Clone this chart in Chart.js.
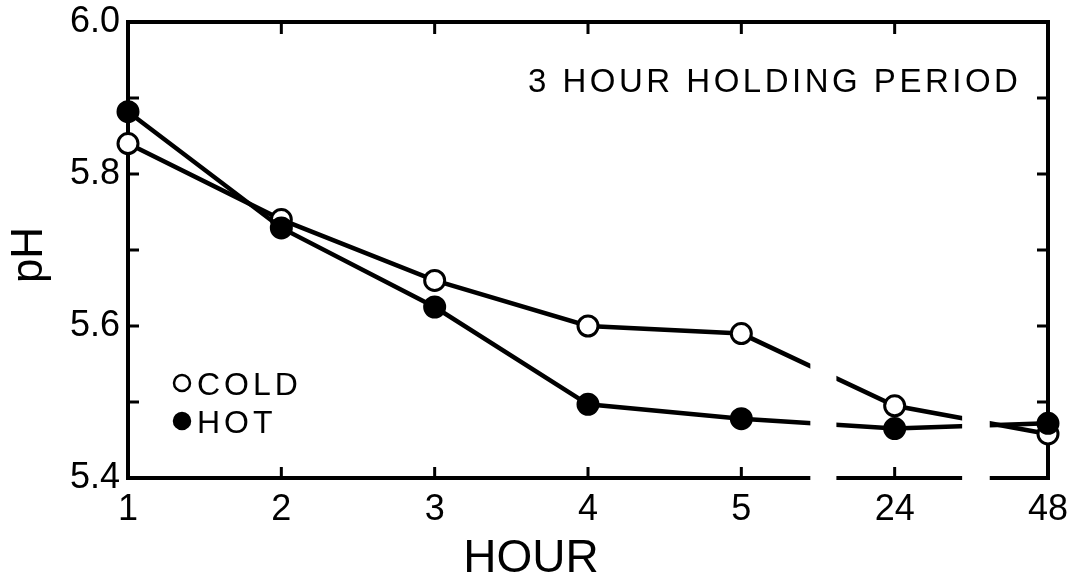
<!DOCTYPE html>
<html>
<head>
<meta charset="utf-8">
<script src="https://cdn.jsdelivr.net/npm/chart.js@4.4.1/dist/chart.umd.min.js"></script>
<style>
  html, body { margin: 0; padding: 0; background: #fff; }
  #wrap { width: 1075px; height: 581px; position: relative; }
</style>
</head>
<body>
<div id="wrap"><canvas id="chart"></canvas></div>
<script>
// values
const hours = ['1', '2', '3', '4', '5', '24', '48'];
const coldPH = [5.84, 5.74, 5.66, 5.60, 5.59, 5.495, 5.458];
const hotPH = [5.882, 5.729, 5.625, 5.497, 5.478, 5.465, 5.472];
const yTickValues = [5.4, 5.5, 5.6, 5.7, 5.8, 5.9, 6.0];
const yTickLabels = ['5.4', '5.6', '5.8', '6.0'];

// broken x axis: spans in category-index units
const breakSpans = [[4.45, 4.62], [5.44, 5.62]];

const FONT = '"Liberation Sans", Arial, sans-serif';

const framePlugin = {
  id: 'frame',
  beforeDatasetsDraw(chart) {
    const { ctx, chartArea: a, scales: { x, y } } = chart;
    ctx.save();
    ctx.strokeStyle = '#000';
    ctx.lineWidth = 4;
    ctx.lineJoin = 'miter';
    ctx.beginPath();
    ctx.moveTo(a.left, a.top);
    ctx.lineTo(a.right, a.top);
    ctx.lineTo(a.right, a.bottom);
    ctx.lineTo(a.left, a.bottom);
    ctx.closePath();
    ctx.stroke();

    ctx.lineWidth = 3;
    ctx.beginPath();
    yTickValues.slice(1, -1).forEach(v => {
      const py = y.getPixelForValue(v);
      ctx.moveTo(a.left, py);
      ctx.lineTo(a.left + 11, py);
      ctx.moveTo(a.right, py);
      ctx.lineTo(a.right - 11, py);
    });
    hours.forEach((h, i) => {
      if (i === 0 || i === hours.length - 1) return;
      const px = x.getPixelForValue(i);
      ctx.moveTo(px, a.bottom);
      ctx.lineTo(px, a.bottom - 11);
      ctx.moveTo(px, a.top);
      ctx.lineTo(px, a.top + 12);
    });
    ctx.stroke();
    ctx.restore();
  },
  afterDatasetsDraw(chart) {
    const { ctx, chartArea: a, scales: { x } } = chart;
    ctx.save();
    ctx.fillStyle = '#fff';
    breakSpans.forEach(([from, to]) => {
      const x0 = x.getPixelForValue(from);
      const x1 = x.getPixelForValue(to);
      ctx.fillRect(x0, a.top + 40, x1 - x0, a.bottom - a.top - 35);
    });
    ctx.restore();
  },
  afterDraw(chart) {
    const { ctx } = chart;
    ctx.save();
    ctx.fillStyle = '#000';

    // title inside the plot
    ctx.font = '33px ' + FONT;
    ctx.letterSpacing = '3.5px';
    ctx.textAlign = 'left';
    ctx.textBaseline = 'alphabetic';
    ctx.fillText('3 HOUR HOLDING PERIOD', 528, 92);

    // legend
    const items = [
      { label: 'COLD', fill: '#fff', y: 383 },
      { label: 'HOT', fill: '#000', y: 421 }
    ];
    ctx.font = '32px ' + FONT;
    ctx.letterSpacing = '4px';
    items.forEach(it => {
      ctx.beginPath();
      ctx.arc(182, it.y, 8, 0, Math.PI * 2);
      ctx.fillStyle = it.fill;
      ctx.fill();
      ctx.lineWidth = 2.5;
      ctx.strokeStyle = '#000';
      ctx.stroke();
      ctx.fillStyle = '#000';
      ctx.fillText(it.label, 197, it.y + 12);
    });

    // axis titles
    ctx.letterSpacing = '0px';
    ctx.font = '46px ' + FONT;
    ctx.textAlign = 'center';
    ctx.fillText('HOUR', 531, 572);

    ctx.translate(42, 255);
    ctx.rotate(-Math.PI / 2);
    ctx.font = '44px ' + FONT;
    ctx.fillText('pH', 0, 0);
    ctx.restore();
  }
};

new Chart(document.getElementById('chart'), {
  type: 'line',
  data: {
    labels: hours,
    datasets: [
      {
        label: 'COLD',
        data: coldPH,
        order: 1,
        borderColor: '#000',
        borderWidth: 4.5,
        pointRadius: 10,
        pointBorderWidth: 3,
        pointBorderColor: '#000',
        pointBackgroundColor: '#fff',
        tension: 0,
        clip: false
      },
      {
        label: 'HOT',
        data: hotPH,
        order: 0,
        borderColor: '#000',
        borderWidth: 4.5,
        pointRadius: 10,
        pointBorderWidth: 3,
        pointBorderColor: '#000',
        pointBackgroundColor: '#000',
        tension: 0,
        clip: false
      }
    ]
  },
  options: {
    responsive: true,
    maintainAspectRatio: false,
    animation: false,
    layout: {
      padding: { top: 22, right: 27, bottom: 0, left: 0 }
    },
    plugins: {
      legend: { display: false },
      tooltip: { enabled: false }
    },
    scales: {
      x: {
        type: 'category',
        offset: false,
        grid: { display: false, drawTicks: false },
        border: { display: false },
        ticks: {
          color: '#000',
          font: { family: FONT, size: 36 },
          padding: 10,
          maxRotation: 0,
          autoSkip: false
        },
        afterFit(scale) {
          scale.height = 103;
          scale.paddingLeft = 0;
          scale.paddingRight = 0;
        }
      },
      y: {
        min: 5.4,
        max: 6.0,
        grid: { display: false, drawTicks: false },
        border: { display: false },
        ticks: {
          stepSize: 0.1,
          color: '#000',
          font: { family: FONT, size: 36 },
          padding: 8,
          callback(value) {
            const label = value.toFixed(1);
            return yTickLabels.includes(label) ? label : '';
          }
        },
        afterFit(scale) {
          scale.width = 128;
          scale.paddingTop = 0;
          scale.paddingBottom = 0;
        }
      }
    }
  },
  plugins: [framePlugin]
});
</script>
</body>
</html>
